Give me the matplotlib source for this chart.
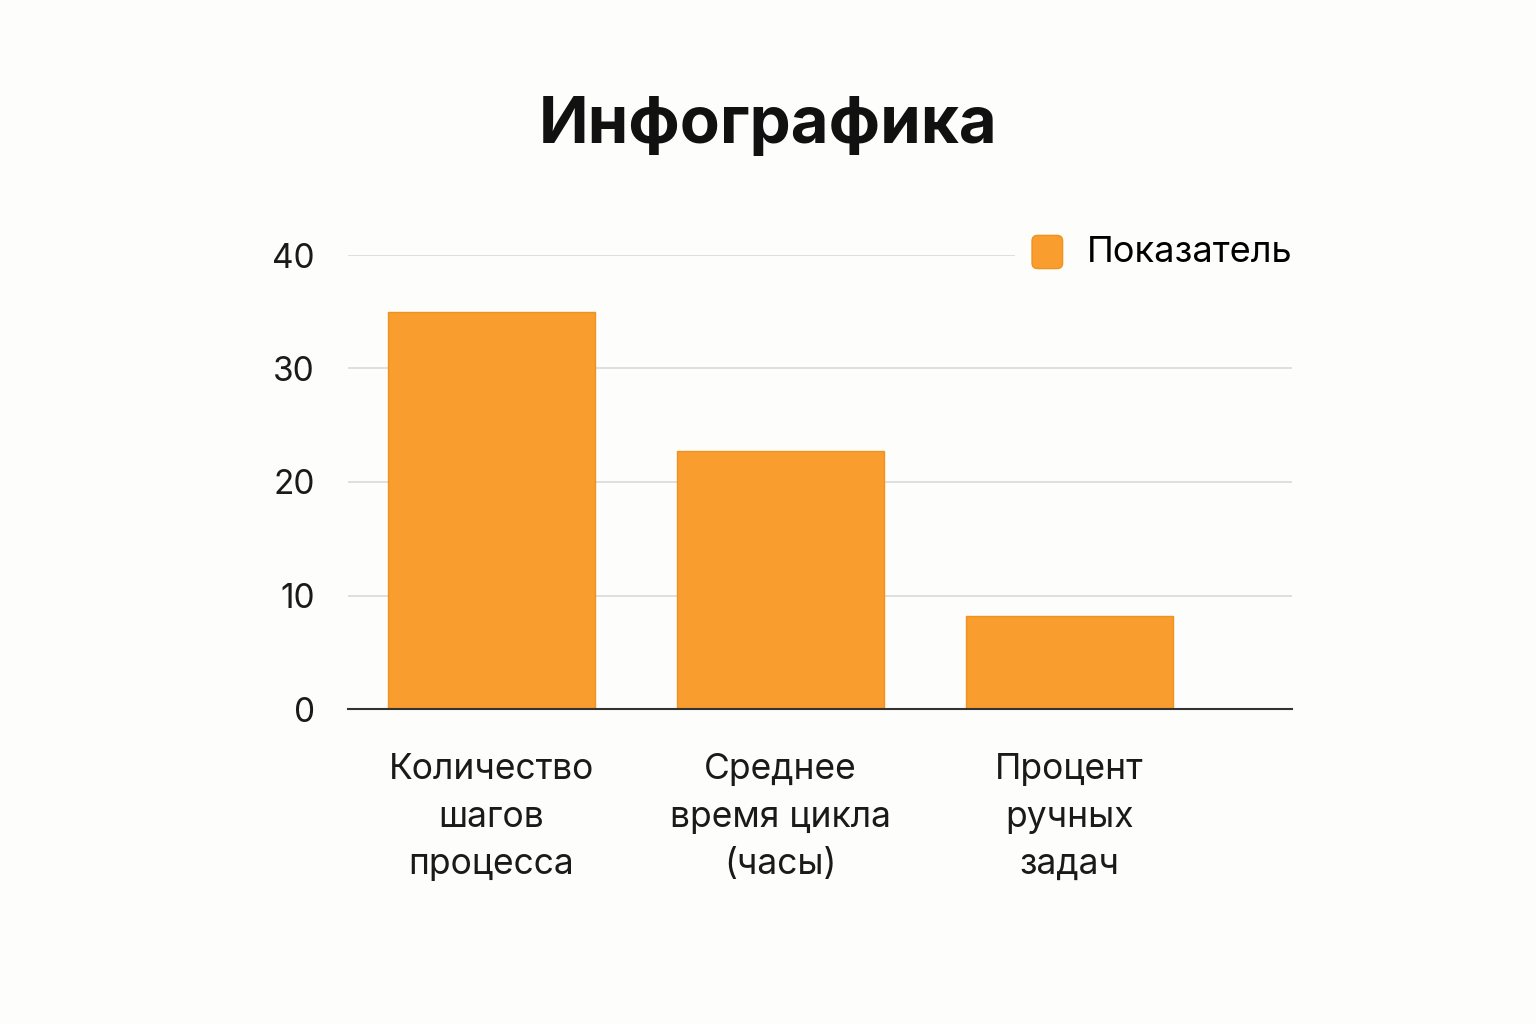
import matplotlib.pyplot as plt
from matplotlib.legend_handler import HandlerPatch
from matplotlib.patches import FancyBboxPatch, Patch

plt.rcParams['font.family'] = ['Inter', 'DejaVu Sans']

categories = ["Количество\nшагов\nпроцесса", "Среднее\nвремя цикла\n(часы)", "Процент\nручных\nзадач"]
values = [35, 22.7, 8.2]
yticks = [0, 10, 20, 30, 40]
series_name = "Показатель"

bg = "#FDFDFB"
bar_color = "#F99D2E"


class RoundHandler(HandlerPatch):
    def create_artists(self, legend, orig_handle, xdescent, ydescent,
                       width, height, fontsize, trans):
        p = FancyBboxPatch((-xdescent + 2, -ydescent - 4), width - 4, height + 4,
                           boxstyle="round,pad=0,rounding_size=4",
                           facecolor=bar_color, edgecolor="#EE9220", lw=1,
                           transform=trans)
        return [p]


fig = plt.figure(figsize=(15.36, 10.24), dpi=100, facecolor=bg)
ax = fig.add_axes([348/1536, 1 - 709/1024, (1292 - 348)/1536, (709 - 255)/1024])
ax.set_facecolor(bg)

x = range(len(values))
ax.bar(x, values, width=0.716, color=bar_color, edgecolor="#EE9220", linewidth=1, zorder=2)

ax.set_xlim(-0.495, 2.77)
ax.set_ylim(0, 40)
ax.set_yticks(yticks)
ax.set_yticklabels([str(t) for t in yticks], fontsize=24, color="#1a1a1a")
ax.set_xticks(list(x))
ax.set_xticklabels(categories, fontsize=25.5, color="#1a1a1a", linespacing=1.55)
ax.tick_params(axis='y', length=0, pad=24)
ax.tick_params(axis='x', length=0, pad=32)
ax.yaxis.grid(True, color="#D9D9D9", linewidth=1.2, zorder=0)
ax.set_axisbelow(True)
for s in ["top", "right", "left"]:
    ax.spines[s].set_visible(False)
ax.spines["bottom"].set_color("#333333")
ax.spines["bottom"].set_linewidth(1.5)
ax.spines["bottom"].set_zorder(3)

leg = ax.legend([Patch(color=bar_color)], [series_name], loc="upper right",
                bbox_to_anchor=(1.016, 1.075), fontsize=26, frameon=True,
                facecolor=bg, edgecolor="none", framealpha=1,
                handlelength=1.0, handleheight=0.8, handletextpad=0.6,
                borderpad=0.4, borderaxespad=0,
                handler_map={Patch: RoundHandler()})
leg.set_zorder(5)

fig.text(0.5, 1 - 143/1024, "Инфографика", ha="center", va="baseline",
         fontsize=47, fontweight="bold", color="#111111")

fig.savefig("out.png", dpi=100, facecolor=bg)
